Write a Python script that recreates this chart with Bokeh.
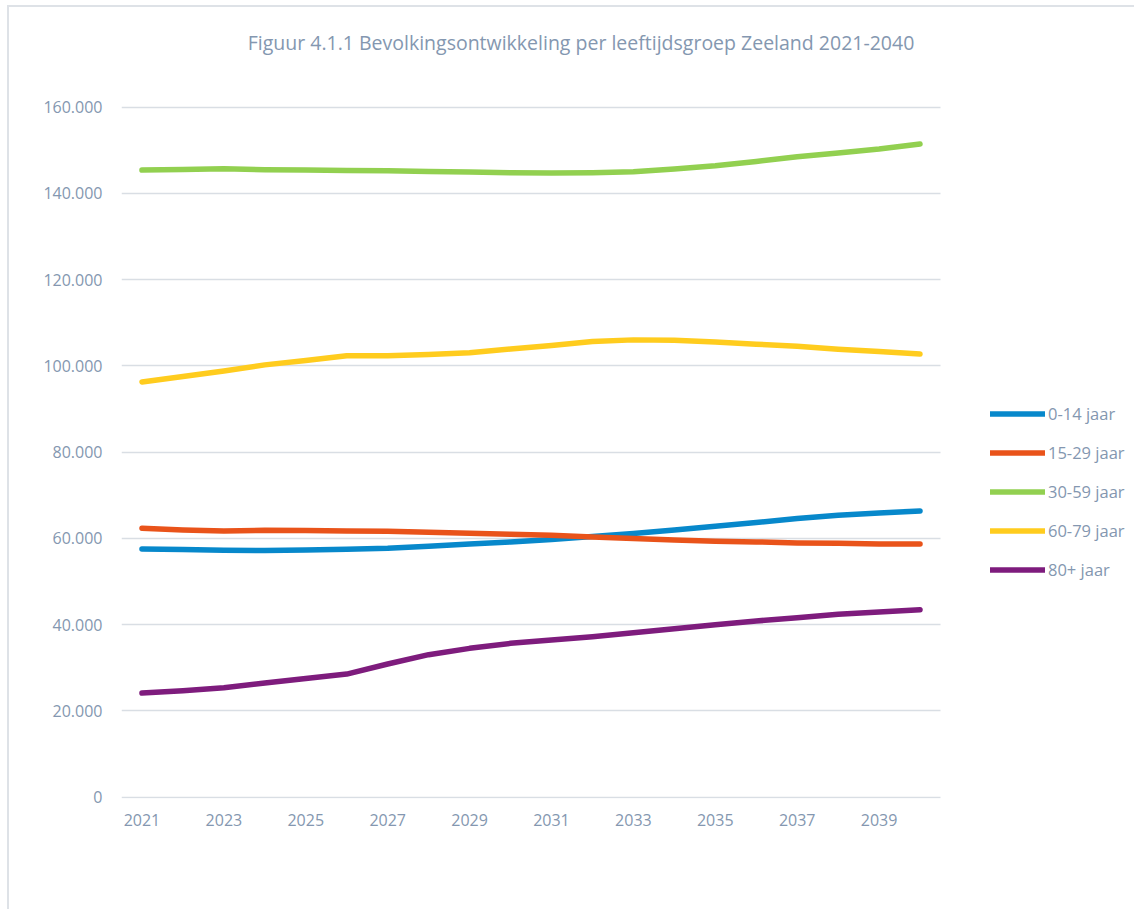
from bokeh.plotting import figure
from bokeh.models import Legend, LegendItem, Label, FixedTicker, ColumnDataSource
from bokeh.embed import file_html
from bokeh.resources import INLINE

years = list(range(2021, 2041))
series_names = ["0-14 jaar", "15-29 jaar", "30-59 jaar", "60-79 jaar", "80+ jaar"]
colors = ["#0788CB", "#E9531A", "#92D050", "#FFCC1E", "#7E1C7D"]

age_0_14 = [57520, 57370, 57210, 57140, 57290, 57450, 57680, 58140, 58680, 59150,
            59690, 60390, 61080, 61930, 62790, 63640, 64560, 65340, 65880, 66340]
age_15_29 = [62320, 61930, 61700, 61860, 61780, 61700, 61620, 61390, 61160, 60930,
             60700, 60310, 59920, 59610, 59300, 59150, 58920, 58840, 58680, 58680]
age_30_59 = [145370, 145530, 145680, 145450, 145370, 145290, 145220, 145060, 144910, 144750,
             144680, 144750, 144990, 145600, 146380, 147380, 148460, 149310, 150240, 151400]
age_60_79 = [96230, 97500, 98800, 100200, 101200, 102300, 102300, 102600, 103000, 103900,
             104700, 105600, 106000, 105900, 105500, 105000, 104500, 103800, 103300, 102700]
age_80_plus = [24100, 24640, 25330, 26420, 27500, 28510, 30830, 33000, 34470, 35630,
               36400, 37180, 38100, 39030, 39960, 40810, 41590, 42360, 42900, 43440]

y_ticks = [0, 20000, 40000, 60000, 80000, 100000, 120000, 140000, 160000]
y_tick_labels = ["0", "20.000", "40.000", "60.000", "80.000", "100.000", "120.000", "140.000", "160.000"]
x_ticks = [2021, 2023, 2025, 2027, 2029, 2031, 2033, 2035, 2037, 2039]
x_tick_labels = ["2021", "2023", "2025", "2027", "2029", "2031", "2033", "2035", "2037", "2039"]
title_text = "Figuur 4.1.1 Bevolkingsontwikkeling per leeftijdsgroep Zeeland 2021-2040"

all_series = [age_0_14, age_15_29, age_30_59, age_60_79, age_80_plus]

TXT = "#8497B0"
GRID = "#D9DEE4"
FONT = "Open Sans"

# plot area: years 2020.5..2040.5 over 819 px, 0..160000 over 690 px;
# the frame is widened to the right / upward to host legend and title
PX_PER_YEAR = 819 / 20
UNITS_PER_PX = 160000 / 690
FRAME_W, FRAME_H = 1013, 772
x_start, x_end = 2020.5, 2020.5 + FRAME_W / PX_PER_YEAR
y_start = -1.5 * UNITS_PER_PX
y_end = y_start + FRAME_H * UNITS_PER_PX

p = figure(frame_width=FRAME_W, frame_height=FRAME_H, output_backend="svg", toolbar_location=None,
           x_range=(x_start, x_end), y_range=(y_start, y_end),
           min_border_left=112, min_border_right=0, min_border_top=19, min_border_bottom=111)
p.outline_line_color = None
p.background_fill_color = "white"
p.border_fill_color = "white"
p.styles = {"margin-left": "7px", "margin-top": "5px",
            "border-left": "2px solid #DEE2E7", "border-top": "2px solid #DEE2E7"}

p.xgrid.grid_line_color = None
p.ygrid.grid_line_color = GRID
p.ygrid.grid_line_width = 1.5
p.ygrid.ticker = FixedTicker(ticks=y_ticks)
p.ygrid.cross_bounds = (2020.5, 2040.5)

p.yaxis.ticker = FixedTicker(ticks=y_ticks)
p.yaxis.major_label_overrides = {t: l for t, l in zip(y_ticks, y_tick_labels)}
p.xaxis.ticker = FixedTicker(ticks=x_ticks)
p.xaxis.major_label_overrides = {t: l for t, l in zip(x_ticks, x_tick_labels)}
for ax in (p.xaxis, p.yaxis):
    ax.axis_line_color = None
    ax.major_tick_line_color = None
    ax.minor_tick_line_color = None
    ax.major_label_text_color = TXT
    ax.major_label_text_font = FONT
    ax.major_label_text_font_size = "16px"
p.yaxis.major_label_standoff = 13
p.xaxis.major_label_standoff = 9

items = []
for name, col, vals in zip(series_names, colors, all_series):
    src = ColumnDataSource(dict(x=years, y=vals))
    r = p.line("x", "y", source=src, line_color=col, line_width=5.5,
               line_cap="round", line_join="round")
    items.append(LegendItem(label=name, renderers=[r]))

legend = Legend(items=items, location=(869, 217), orientation="vertical",
                glyph_width=55, glyph_height=23, label_height=23, spacing=16,
                label_standoff=3, padding=0, margin=0,
                border_line_color=None, background_fill_alpha=0,
                label_text_font=FONT, label_text_font_size="16.5px", label_text_color=TXT)
p.add_layout(legend, "center")

title = Label(x=2020.5 + (580.5 - 121) / PX_PER_YEAR, y=(796.5 - 42) * UNITS_PER_PX,
              text=title_text, text_align="center", text_baseline="middle",
              text_font=FONT, text_font_size="19.5px", text_color=TXT)
p.add_layout(title)

open("out.html", "w").write(file_html(p, INLINE))
